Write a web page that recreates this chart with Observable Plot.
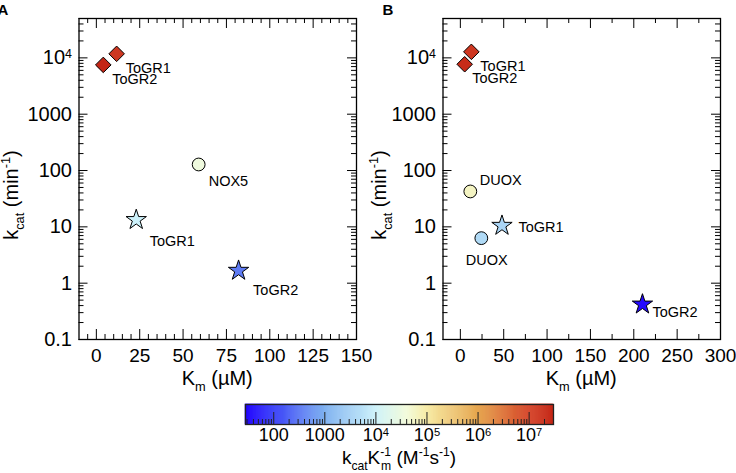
<!DOCTYPE html>
<html><head><meta charset="utf-8">
<script src="https://cdn.jsdelivr.net/npm/d3@7"></script>
<script src="https://cdn.jsdelivr.net/npm/@observablehq/plot@0.6"></script>
<style>
html,body{margin:0;padding:0;background:#fff;}
#root{width:736px;height:473px;position:relative;overflow:hidden;background:#fff;}
#panels{display:flex;}
svg{display:block;}
</style></head><body><div id="root"><div id="panels"></div><div id="cbar"></div></div>
<script>
// ---------- data ----------
// Panel A
const aNames = ["ToGR1", "ToGR2", "NOX5", "ToGR1", "ToGR2"];
const aGroup = ["ToGR-fast", "ToGR-fast", "NOX/DUOX", "ToGR-slow", "ToGR-slow"];
const aKm    = [11.7, 4.0, 59, 23, 82];          // µM
const aKcat  = [11800, 7500, 128, 13.3, 1.67];   // min^-1
// Panel B
const bNames = ["ToGR1", "ToGR2", "DUOX", "DUOX", "ToGR1", "ToGR2"];
const bGroup = ["ToGR-fast", "ToGR-fast", "NOX/DUOX", "NOX/DUOX", "ToGR-slow", "ToGR-slow"];
const bKm    = [12.7, 5.0, 11.5, 24.2, 48, 210];
const bKcat  = [12800, 7700, 42.5, 6.3, 10.5, 0.42];
// axis ticks
const yMajor = [0.1, 1, 10, 100, 1000, 10000];
const aXMajor = [0, 25, 50, 75, 100, 125, 150];
const bXMajor = [0, 50, 100, 150, 200, 250, 300];
const cbMajor = [100, 1000, 1e4, 1e5, 1e6, 1e7];
// colour map (kcat/Km, M^-1 s^-1)
const cbStops  = [28, 100, 1000, 1e4, 4e4, 1e5, 1e6, 1e7, 3e7];
const cbColors = ["#2000ff", "#3a40f8", "#7eb0f0", "#cdf2fa", "#f2fbdc", "#f7eca6", "#e6a64e", "#d6462a", "#c42616"];

// ---------- layout / style ----------
const FONT = '"Liberation Sans", Arial, Helvetica, sans-serif';
const W = 368, H = 395, MT = 18, MB = 56;
const labelOffsetsA = [[9, 15], [9, 14], [10, 16.5], [13.5, 21], [14.5, 20]];
const labelOffsetsB = [[9, 15], [7.5, 14], [9.5, -11.5], [-15.5, 22], [16.5, 2], [10, 8]];
const colorOpts = {type: "log", domain: cbStops, range: cbColors, interpolate: "rgb"};
const symbolOf = {"ToGR-fast": ["diamond2", 7], "NOX/DUOX": ["circle", 6.4], "ToGR-slow": ["star", 6.4]};

const yMinor = [];
for (let e = -1; e <= 4; e++) for (let m = 2; m <= 9; m++) { const v = m * 10 ** e; if (v <= 5e4) yMinor.push(+v.toPrecision(3)); }

function fmtPow(d) { return d >= 1e4 ? "10^" + Math.round(Math.log10(d)) : String(d); }

function applySupers(svg) {
  d3.select(svg).selectAll("text").each(function () {
    const t = this.textContent;
    const i = t.indexOf("^");
    if (i < 0 || this.querySelector("tspan")) return;
    this.textContent = t.slice(0, i);
    d3.select(this).append("tspan").attr("dy", "-0.5em").attr("font-size", "0.62em").text(t.slice(i + 1));
  });
}

function richText(sel, parts, size) {
  let shift = 0;
  for (const [txt, mode, dx] of parts) {
    const ts = sel.append("tspan").text(txt);
    let target = mode === "sub" ? size * 0.3 : mode === "sup" ? -size * 0.42 : 0;
    if (target - shift !== 0) ts.attr("dy", target - shift);
    shift = target;
    if (mode !== "n") ts.attr("font-size", size * 0.64);
    if (dx) ts.attr("dx", dx);
  }
}

function panel(opts) {
  const {km, kcat, names, group, xDomain, xMajor, xMinor, mLeft, mRight, offsets, letter, letterX} = opts;
  const data = km.map((k, i) => ({km: k, kcat: kcat[i], name: names[i], group: group[i], eff: kcat[i] / 60 / (k * 1e-6)}));
  const fh = H - MT - MB, fw = W - mLeft - mRight;
  const tk = {stroke: "black", strokeWidth: 1};
  const marks = [
    Plot.tickX(xMinor, {x: d => d, insetTop: fh - 5, ...tk}),
    Plot.tickX(xMinor, {x: d => d, insetBottom: fh - 5, ...tk}),
    Plot.tickX(xMajor, {x: d => d, insetTop: fh - 10, ...tk}),
    Plot.tickX(xMajor, {x: d => d, insetBottom: fh - 10, ...tk}),
    Plot.tickY(yMinor, {y: d => d, insetRight: fw - 5, ...tk}),
    Plot.tickY(yMinor, {y: d => d, insetLeft: fw - 5, ...tk}),
    Plot.tickY(yMajor, {y: d => d, insetRight: fw - 9, ...tk}),
    Plot.tickY(yMajor, {y: d => d, insetLeft: fw - 9, ...tk}),
    Plot.frame({stroke: "black", strokeWidth: 1.3}),
    Plot.axisX({ticks: xMajor, tickSize: 0, tickPadding: 9, tickFormat: d => String(d), fontSize: 19, label: null}),
    Plot.axisY({ticks: yMajor, tickSize: 0, tickPadding: 7, tickFormat: fmtPow, fontSize: 20, label: null}),
    ...Object.entries(symbolOf).map(([g, [sym, r]]) =>
      Plot.dot(data.filter(d => d.group === g), {x: "km", y: "kcat", symbol: sym, r, fill: "eff", stroke: "black", strokeWidth: 1})),
    ...data.map((d, i) => Plot.text([d], {x: "km", y: "kcat", text: "name", dx: offsets[i][0], dy: offsets[i][1],
      textAnchor: "start", lineAnchor: "middle", fontSize: 14.5, fill: "black"}))
  ];
  const svg = Plot.plot({
    width: W, height: H, marginTop: MT, marginBottom: MB, marginLeft: mLeft, marginRight: mRight,
    x: {domain: xDomain, label: null},
    y: {type: "log", domain: [0.1, 5e4], label: null},
    color: colorOpts,
    style: {fontFamily: FONT, background: "none", color: "black", overflow: "visible"},
    marks
  });
  applySupers(svg);
  const s = d3.select(svg);
  const yt = s.append("text").attr("transform", `translate(18,${195}) rotate(-90)`).attr("text-anchor", "middle")
    .attr("font-size", 20).attr("fill", "black").attr("font-family", FONT);
  richText(yt, [["k", "n"], ["cat", "sub"], [" (min", "n"], ["-1", "sup"], [")", "n"]], 20);
  const xt = s.append("text").attr("x", mLeft + fw / 2).attr("y", 385).attr("text-anchor", "middle")
    .attr("font-size", 20).attr("fill", "black").attr("font-family", FONT);
  richText(xt, [["K", "n"], ["m", "sub"], [" (\u00b5M)", "n"]], 20);
  s.append("text").attr("x", letterX).attr("y", 15).attr("font-size", 15).attr("font-weight", "bold")
    .attr("fill", "black").attr("font-family", FONT).text(letter);
  return svg;
}

const aXMinor = d3.range(-5, 150, 5).filter(v => v % 25 !== 0);
const bXMinor = d3.range(25, 300, 50);

const panels = document.getElementById("panels");
panels.append(panel({km: aKm, kcat: aKcat, names: aNames, group: aGroup, xDomain: [-10, 150],
  xMajor: aXMajor, xMinor: aXMinor, mLeft: 78.5, mRight: 12, offsets: labelOffsetsA, letter: "A", letterX: 3}));
panels.append(panel({km: bKm, kcat: bKcat, names: bNames, group: bGroup, xDomain: [-20, 300],
  xMajor: bXMajor, xMinor: bXMinor, mLeft: 74.5, mRight: 16, offsets: labelOffsetsB, letter: "B", letterX: 20}));

// ---------- colour bar ----------
const cbMin = cbStops[0], cbMax = cbStops[cbStops.length - 1];
const lo = Math.log10(cbMin), hi = Math.log10(cbMax), N = 300;
const seg = d3.range(N).map(i => ({
  x1: 10 ** (lo + (hi - lo) * i / N), x2: 10 ** (lo + (hi - lo) * (i + 1) / N), v: 10 ** (lo + (hi - lo) * (i + 0.5) / N)
}));
const cbMinor = [];
for (let e = 1; e <= 7; e++) for (let m = 2; m <= 9; m++) { const v = m * 10 ** e; if (v > cbMin && v < cbMax) cbMinor.push(v); }
const CBH = 78, CBMT = 9, CBMB = 49, fhc = CBH - CBMT - CBMB;
const cb = Plot.plot({
  width: 736, height: CBH, marginLeft: 245, marginRight: 183, marginTop: CBMT, marginBottom: CBMB,
  x: {type: "log", domain: [cbMin, cbMax], label: null},
  color: colorOpts,
  style: {fontFamily: FONT, background: "none", color: "black", overflow: "visible"},
  marks: [
    Plot.rect(seg, {x1: "x1", x2: "x2", fill: "v", stroke: "v", strokeWidth: 0.6}),
    Plot.tickX(cbMinor, {x: d => d, insetTop: fhc - 5, stroke: "#222", strokeWidth: 1}),
    Plot.tickX(cbMajor, {x: d => d, insetTop: fhc - 12, stroke: "#222", strokeWidth: 1}),
    Plot.frame({stroke: "#222", strokeWidth: 1.3}),
    Plot.axisX({ticks: cbMajor, tickSize: 0, tickPadding: 4, tickFormat: fmtPow, fontSize: 18, label: null})
  ]
});
applySupers(cb);
const ct = d3.select(cb).append("text").attr("x", 399).attr("y", 69).attr("text-anchor", "middle")
  .attr("font-size", 19).attr("fill", "black").attr("font-family", FONT);
richText(ct, [["k", "n"], ["cat", "sub"], ["K", "n"], ["-1", "sup"], ["m", "sub", -10], [" (M", "n"], ["-1", "sup"], ["s", "n"], ["-1", "sup"], [")", "n"]], 19);
document.getElementById("cbar").append(cb);
</script>
</body></html>
